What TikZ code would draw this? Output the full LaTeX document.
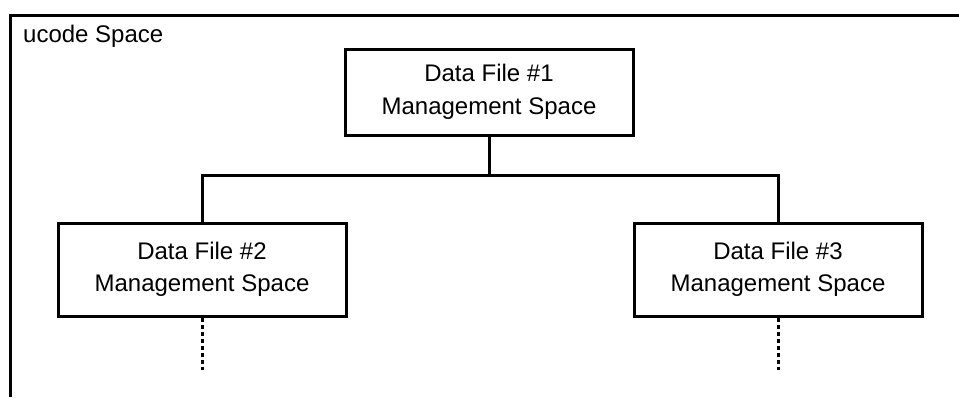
\documentclass[tikz,border=0pt]{standalone}
\usepackage{fontspec}
\setmainfont{Liberation Sans}
\begin{document}
\begin{tikzpicture}[x=1pt,y=-1pt,
  frameline/.style={line width=3pt},
  spacebox/.style={draw,line width=3pt,minimum width=288pt,inner sep=0pt,
    align=center,font=\fontsize{24}{32.5}\selectfont},
  link/.style={line width=3pt},
  cont/.style={line width=3pt,dash pattern=on 4.5pt off 2.5pt}]
\useasboundingbox (0,0) rectangle (959,397);
% enclosing space: left edge and top edge only
\draw[frameline] (10,397) -- (10,15) -- (959,15);
\node[anchor=base west,inner sep=0pt,font=\fontsize{24}{28}\selectfont] (title) at (23,42) {ucode Space};
% management spaces
\node[spacebox,minimum height=86pt] (b1) at (489,92) {Data File \#1\\Management Space};
\node[spacebox,minimum height=93pt] (b2) at (202,269.5) {Data File \#2\\Management Space};
\node[spacebox,minimum height=93pt] (b3) at (778,269.5) {Data File \#3\\Management Space};
% tree connectors
\coordinate (bus) at (489,175);
\draw[link] (b1.south) -- (bus);
\draw[link] (b2.north) |- (bus) -| (b3.north);
% continuation below the lower spaces
\coordinate (e2) at (202,370);
\coordinate (e3) at (778,370);
\draw[cont] (b2.south) -- (e2);
\draw[cont] (b3.south) -- (e3);
\end{tikzpicture}
\end{document}
